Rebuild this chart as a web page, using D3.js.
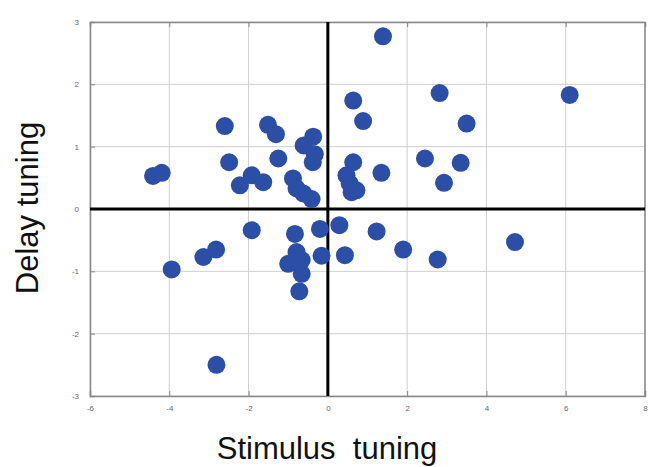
<!DOCTYPE html>
<html>
<head>
<meta charset="utf-8">
<script src="https://cdn.jsdelivr.net/npm/d3@7"></script>
<style>
  body { margin: 0; background: #fff; }
  svg { display: block; }
</style>
</head>
<body>
<svg id="chart"></svg>
<script>
var width = 648;
var height = 467;

// stimulus tuning (x) and delay tuning (y) per neuron
var stimulus = [1.39, 2.82, 6.10, 0.64, 3.50, 0.89, -2.60, -1.51, -1.31, -0.37,
  -0.61, -0.33, -0.38, -1.25, -2.49, 2.45, 3.35, 0.64, 0.47, 0.55,
  0.72, 0.60, 1.35, 2.93, -4.41, -4.19, -2.22, -1.92, -1.63, -0.88,
  -0.79, -0.62, -0.41, -1.92, -0.83, -0.20, 0.29, 1.23, -0.79, -1.00,
  -0.66, -0.66, -0.72, -0.16, 0.43, 1.90, 2.77, 4.72, -3.14, -2.82,
  -3.94, -2.81];
var delay = [2.77, 1.86, 1.83, 1.74, 1.37, 1.41, 1.33, 1.35, 1.20, 1.16,
  1.02, 0.88, 0.75, 0.81, 0.75, 0.81, 0.74, 0.75, 0.54, 0.41,
  0.30, 0.27, 0.58, 0.42, 0.53, 0.58, 0.38, 0.54, 0.43, 0.49,
  0.33, 0.25, 0.16, -0.34, -0.40, -0.32, -0.26, -0.36, -0.69, -0.88,
  -0.82, -1.04, -1.32, -0.75, -0.74, -0.65, -0.81, -0.53, -0.77, -0.65,
  -0.97, -2.50];

var xTicks = [-6, -4, -2, 0, 2, 4, 6, 8];
var yTicks = [-3, -2, -1, 0, 1, 2, 3];

var data = stimulus.map(function(d, i) { return { x: d, y: delay[i] }; });

var svg = d3.select('#chart')
    .attr('width', width)
    .attr('height', height);

var xScale = d3.scaleLinear()
    .domain([-6, 8])
    .range([90, 645]);

var yScale = d3.scaleLinear()
    .domain([-3, 3])
    .range([396, 22]);

// grid
var grid = svg.append('g');
grid.selectAll('.vgrid')
    .data(xTicks)
  .enter().append('line')
    .attr('x1', d => xScale(d)).attr('x2', d => xScale(d))
    .attr('y1', yScale(3)).attr('y2', yScale(-3))
    .attr('stroke', '#cfcfcf')
    .attr('stroke-width', 1);
grid.selectAll('.hgrid')
    .data(yTicks)
  .enter().append('line')
    .attr('y1', d => yScale(d)).attr('y2', d => yScale(d))
    .attr('x1', xScale(-6)).attr('x2', xScale(8))
    .attr('stroke', '#cfcfcf')
    .attr('stroke-width', 1);

// axes (ticks point inward)
var xAxis = svg.append('g')
    .attr('transform', 'translate(0,' + yScale(-3) + ')')
    .call(d3.axisBottom(xScale).tickValues(xTicks).tickSize(-5).tickPadding(9)
      .tickFormat(d => String(d)));
var yAxis = svg.append('g')
    .attr('transform', 'translate(' + xScale(-6) + ',0)')
    .call(d3.axisLeft(yScale).tickValues(yTicks).tickSize(-5).tickPadding(11)
      .tickFormat(d => String(d)));
svg.append('g')
    .attr('transform', 'translate(0,' + yScale(3) + ')')
    .call(d3.axisTop(xScale).tickValues(xTicks).tickSize(-5).tickFormat(''));

[xAxis, yAxis].forEach(function(g) {
  g.selectAll('text')
      .attr('fill', '#666')
      .style('font-family', 'Liberation Sans, Arial, sans-serif')
      .style('font-size', '8px');
});
svg.selectAll('.domain').attr('stroke', '#888').attr('stroke-width', 1.5);
svg.selectAll('.tick line').attr('stroke', '#888');

svg.append('line')
    .attr('x1', xScale(8)).attr('x2', xScale(8))
    .attr('y1', yScale(3)).attr('y2', yScale(-3))
    .attr('stroke', '#888').attr('stroke-width', 1.5);

// zero lines
svg.append('line')
    .attr('x1', xScale(-6)).attr('x2', xScale(8))
    .attr('y1', yScale(0)).attr('y2', yScale(0))
    .attr('stroke', '#000').attr('stroke-width', 3);
svg.append('line')
    .attr('x1', xScale(0)).attr('x2', xScale(0))
    .attr('y1', yScale(3)).attr('y2', yScale(-3))
    .attr('stroke', '#000').attr('stroke-width', 3);

// points
svg.append('g')
  .selectAll('circle')
    .data(data)
  .enter().append('circle')
    .attr('cx', d => xScale(d.x))
    .attr('cy', d => yScale(d.y))
    .attr('r', 9)
    .attr('fill', '#2b4fa6');

// axis titles
svg.append('text')
    .attr('x', 327)
    .attr('y', 459)
    .attr('text-anchor', 'middle')
    .style('font-family', 'Liberation Sans, Arial, sans-serif')
    .style('font-size', '31px')
    .style('white-space', 'pre')
    .attr('fill', '#111')
    .text('Stimulus  tuning');

svg.append('text')
    .attr('transform', 'translate(38,208) rotate(-90)')
    .attr('text-anchor', 'middle')
    .style('font-family', 'Liberation Sans, Arial, sans-serif')
    .style('font-size', '31px')
    .attr('fill', '#111')
    .text('Delay tuning');
</script>
</body>
</html>
